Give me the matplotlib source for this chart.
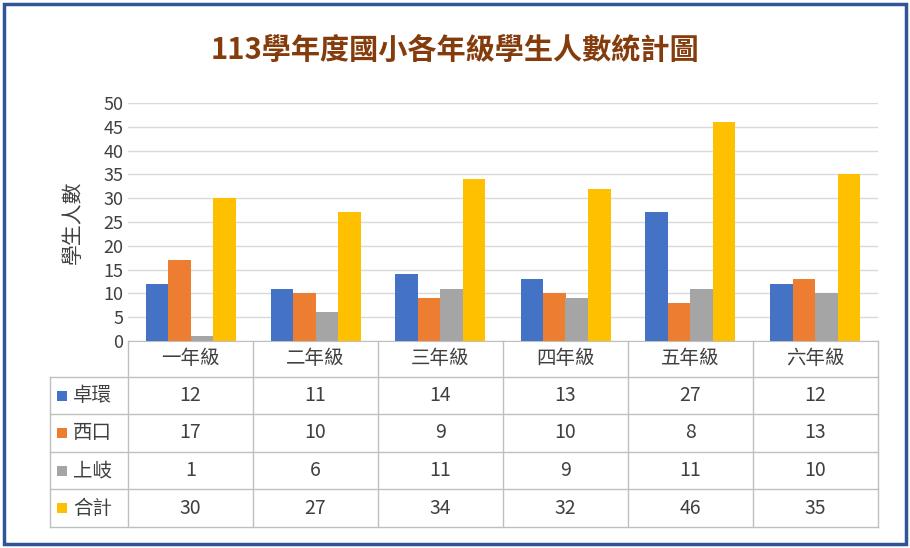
import matplotlib
matplotlib.use("Agg")
import matplotlib.pyplot as plt
import numpy as np
from matplotlib.patches import Rectangle
from matplotlib.lines import Line2D

plt.rcParams['font.family'] = ['Noto Sans CJK TC', 'DejaVu Sans']

grades = ["一年級", "二年級", "三年級", "四年級", "五年級", "六年級"]
series_names = ["卓環", "西口", "上岐", "合計"]
zhuohuan = [12, 11, 14, 13, 27, 12]
xikou = [17, 10, 9, 10, 8, 13]
shangqi = [1, 6, 11, 9, 11, 10]
total = [30, 27, 34, 32, 46, 35]
colors = ["#4472C4", "#ED7D31", "#A5A5A5", "#FFC000"]

W, H = 910, 548
fig = plt.figure(figsize=(W / 100, H / 100), dpi=100)

def fx(px):
    return px / W

def fy(py):
    return 1 - py / H

# outer border
fig.add_artist(Rectangle((fx(4), fy(544)), fx(902), 540 / H, fill=False,
                         edgecolor="#2F5597", linewidth=2.5,
                         transform=fig.transFigure))

fig.text(0.5, fy(50), "113學年度國小各年級學生人數統計圖", ha="center",
         va="center", fontsize=21, fontweight="bold", color="#843C0C")

left, right, top, bottom = 128, 878, 103, 341
ax = fig.add_axes([fx(left), fy(bottom), fx(right - left), (bottom - top) / H])
x = np.arange(len(grades))
bw = 0.18
data = [zhuohuan, xikou, shangqi, total]
for i, (vals, c) in enumerate(zip(data, colors)):
    ax.bar(x + (i - 1.5) * bw, vals, bw, color=c, zorder=3)
ax.set_xlim(-0.5, len(grades) - 0.5)
ax.set_ylim(0, 50)
ax.set_yticks(range(0, 51, 5))
ax.tick_params(axis="y", length=0, labelsize=13, labelcolor="#404040")
ax.set_xticks([])
ax.grid(axis="y", color="#D9D9D9", linewidth=1, zorder=0)
for s in ["top", "right", "left"]:
    ax.spines[s].set_visible(False)
ax.spines["bottom"].set_color("#BFBFBF")
ax.set_ylabel("學生人數", fontsize=15, color="#404040", labelpad=14)

# data table
line_c = "#BFBFBF"
col_w = (right - left) / len(grades)
row_ys = [341, 377, 414, 452, 489, 527]
tbl_left = 50

def hline(y, x0, x1):
    fig.add_artist(Line2D([fx(x0), fx(x1)], [fy(y), fy(y)], color=line_c,
                          linewidth=1, transform=fig.transFigure))

def vline(xp, y0, y1):
    fig.add_artist(Line2D([fx(xp), fx(xp)], [fy(y0), fy(y1)], color=line_c,
                          linewidth=1, transform=fig.transFigure))

for y in row_ys[1:]:
    hline(y, tbl_left, right)
vline(tbl_left, row_ys[1], row_ys[-1])
for k in range(len(grades) + 1):
    vline(left + k * col_w, row_ys[0], row_ys[-1])

for k, g in enumerate(grades):
    fig.text(fx(left + (k + 0.5) * col_w), fy((row_ys[0] + row_ys[1]) / 2), g,
             ha="center", va="center", fontsize=14, color="#404040")

for r, (name, vals, c) in enumerate(zip(series_names, data, colors)):
    yc = (row_ys[r + 1] + row_ys[r + 2]) / 2
    fig.add_artist(Rectangle((fx(57), fy(yc + 5)), fx(10), 10 / H,
                             facecolor=c, edgecolor="none",
                             transform=fig.transFigure))
    fig.text(fx(73), fy(yc), name, ha="left", va="center", fontsize=14,
             color="#404040")
    for k, v in enumerate(vals):
        fig.text(fx(left + (k + 0.5) * col_w), fy(yc), str(v), ha="center",
                 va="center", fontsize=14, color="#404040")

fig.savefig("out.png", dpi=100)
